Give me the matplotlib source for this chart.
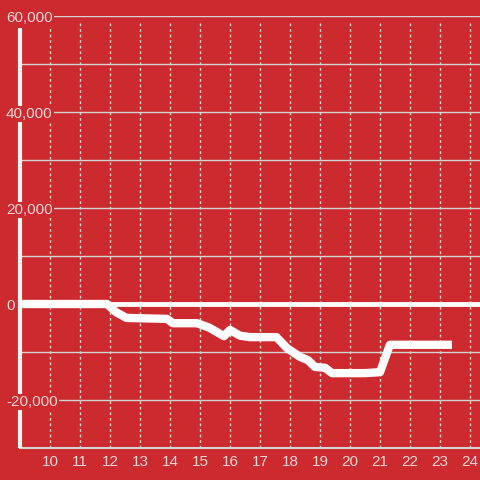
import matplotlib.pyplot as plt

# hours of the day and running total
hours = [9.0, 11.9, 12.2, 12.55, 13.9, 14.1, 14.9, 15.3, 15.8, 16.0, 16.33,
         16.67, 17.55, 17.9, 18.33, 18.6, 18.83, 19.17, 19.4, 20.5, 21.0,
         21.33, 23.4]
values = [0, 0, -1700, -2900, -3100, -4000, -4000, -4900, -6700, -5400, -6600,
          -6900, -6900, -9200, -11000, -11700, -13100, -13300, -14400, -14400,
          -14200, -8500, -8500]

x_ticks = list(range(10, 25))
y_ticks = [60000, 40000, 20000, 0, -20000]
y_grid = list(range(-20000, 60001, 10000))

bg = '#cc2a2e'
grid_col = '#d4d4d4'
label_col = '#f3d6d6'

plt.rcParams['font.family'] = ['Liberation Sans', 'DejaVu Sans']

fig = plt.figure(figsize=(4.8, 4.8), dpi=100, facecolor=bg)
ax = fig.add_axes([20 / 480, 32 / 480, 460 / 480, 432 / 480])
ax.set_facecolor(bg)
ax.set_xlim(9, 9 + 460 / 30)
ax.set_ylim(-30000, 60000)
for s in ax.spines.values():
    s.set_visible(False)
ax.set_xticks([])
ax.set_yticks([])

# grid
for g in y_grid:
    if g != 0:
        ax.axhline(g, color=grid_col, lw=1, zorder=1)
ax.vlines(x_ticks, -30000, 58750, colors=grid_col, lw=1, linestyles=(0, (2, 2)), zorder=1)
ax.axhline(-30000, color=grid_col, lw=1.5, zorder=2, clip_on=False)
ax.axhline(0, color='white', lw=3.5, zorder=2)
ax.vlines([9.0], -30000, 57500, colors='#f4f4f4', lw=3, zorder=2, clip_on=False)

ax.plot(hours, values, color='white', lw=6, solid_capstyle='butt',
        solid_joinstyle='round', zorder=3)

for t in x_ticks:
    ax.text(t, -33000, str(t), color=label_col, fontsize=11, ha='center',
            va='center', clip_on=False)

for t in y_ticks:
    ax.text(9 - 14 / 30, t - 400, f'{t:,}', color=label_col, fontsize=11,
            ha='left', va='center', clip_on=False, zorder=4,
            bbox=dict(facecolor=bg, edgecolor='none', pad=1))

fig.savefig('out.png', dpi=100, facecolor=bg)
